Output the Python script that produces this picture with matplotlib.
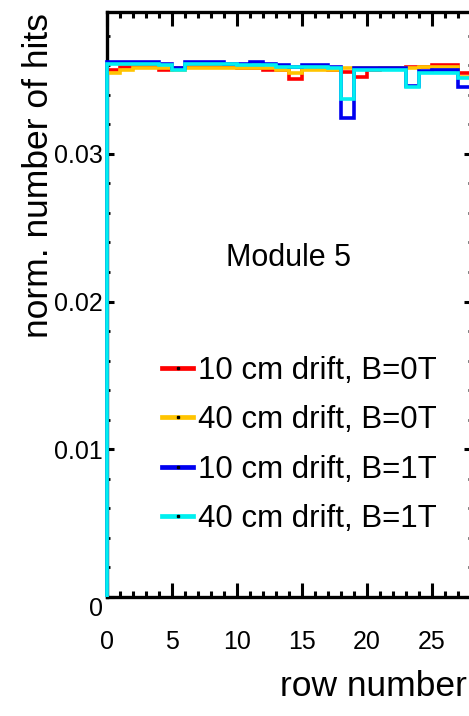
import numpy as np
import matplotlib
matplotlib.use("Agg")
import matplotlib.pyplot as plt
from matplotlib.lines import Line2D
from matplotlib.ticker import MultipleLocator, FixedLocator

plt.rcParams['font.family'] = ['Liberation Sans', 'DejaVu Sans']

edges = np.arange(0, 29)

red_10cm_0T = [0.03565, 0.0359, 0.0359, 0.0359, 0.0357, 0.0358, 0.0359, 0.0359, 0.0359, 0.0359,
               0.0358, 0.0358, 0.0357, 0.0357, 0.03505, 0.0358, 0.0358, 0.0357, 0.03557, 0.03523,
               0.0357, 0.0358, 0.0358, 0.0359, 0.0359, 0.0360, 0.0360, 0.03546]
orange_40cm_0T = [0.0355, 0.0357, 0.0358, 0.0358, 0.0358, 0.0357, 0.0358, 0.0358, 0.0358, 0.0358,
                  0.0358, 0.0358, 0.0358, 0.0357, 0.03546, 0.0357, 0.0357, 0.0357, 0.0358, 0.0358,
                  0.0358, 0.0358, 0.0358, 0.0358, 0.0359, 0.0359, 0.0359, 0.03523]
blue_10cm_1T = [0.0362, 0.0362, 0.0362, 0.0362, 0.0361, 0.0358, 0.0362, 0.0362, 0.0362, 0.0361,
                0.0361, 0.0362, 0.0361, 0.0360, 0.0359, 0.0360, 0.0360, 0.0359, 0.0324, 0.0358,
                0.0358, 0.0358, 0.0358, 0.0346, 0.0356, 0.0357, 0.0357, 0.03455]
cyan_40cm_1T = [0.0361, 0.0361, 0.0361, 0.0361, 0.0360, 0.0357, 0.0361, 0.0361, 0.0361, 0.0361,
                0.0360, 0.0360, 0.0360, 0.0359, 0.0359, 0.0359, 0.0359, 0.0358, 0.0337, 0.0357,
                0.0357, 0.0357, 0.0357, 0.03455, 0.0355, 0.0355, 0.0355, 0.0351]

labels = ["10 cm drift, B=0T", "40 cm drift, B=0T", "10 cm drift, B=1T", "40 cm drift, B=1T"]
colors = ["#ff0000", "#ffc400", "#0000f0", "#00f0f0"]
series = [red_10cm_0T, orange_40cm_0T, blue_10cm_1T, cyan_40cm_1T]

W, H = 469, 716
fig = plt.figure(figsize=(W / 100, H / 100), dpi=100)
x0, x1, ytop, ybot = 106.7, 470.7, 12, 597
ax = fig.add_axes([x0 / W, (H - ybot) / H, (x1 - x0) / W, (ybot - ytop) / H])

for vals, c in zip(series, colors):
    ax.stairs(vals, edges, baseline=0, fill=False, color=c, lw=2.6,
              zorder=3, clip_on=False)

ax.set_xlim(0, 28)
ax.set_ylim(0, 0.0396)

for s in ax.spines.values():
    s.set_linewidth(2.4)

ax.xaxis.set_major_locator(MultipleLocator(5))
ax.xaxis.set_minor_locator(MultipleLocator(1))
ax.yaxis.set_major_locator(FixedLocator([0, 0.01, 0.02, 0.03]))
ax.yaxis.set_minor_locator(MultipleLocator(0.002))
ax.set_yticklabels(["0", "0.01", "0.02", "0.03"])

ax.tick_params(axis='x', which='major', direction='in', length=10, width=2.2,
               top=True, labelsize=18, pad=24)
ax.tick_params(axis='x', which='minor', direction='in', length=4.5, width=2.2, top=True)
ax.tick_params(axis='y', which='major', direction='in', length=5, width=2.2,
               right=True, labelsize=18, pad=3)
ax.tick_params(axis='y', which='minor', direction='in', length=2.5, width=2.0, right=True)

ylabs = ax.get_yticklabels()
ylabs[0].set_va('top')

fig.text(39 / W, 1 - 176 / H, "norm. number of hits", rotation=90,
         ha='center', va='center', fontsize=25.5)
fig.text(280 / W, 1 - 687 / H, "row number", ha='left', va='center', fontsize=25.5)

ax.text((289 - x0) / (x1 - x0), 1 - (258 - ytop) / (ybot - ytop),
        "Module 5", transform=ax.transAxes, ha='center', va='center', fontsize=22)

handles = [Line2D([], [], color=c, lw=3.4, marker='s', markersize=1.6,
                  markerfacecolor='k', markeredgecolor='k') for c in colors]
ax.legend(handles, labels, loc='upper left', bbox_to_anchor=(162 / W, (H - 356) / H),
          bbox_transform=fig.transFigure, frameon=False, fontsize=22.5,
          handlelength=1.0, handletextpad=0.15, labelspacing=0.62,
          borderpad=0, borderaxespad=0, numpoints=1)

fig.savefig("out.png", dpi=100)
